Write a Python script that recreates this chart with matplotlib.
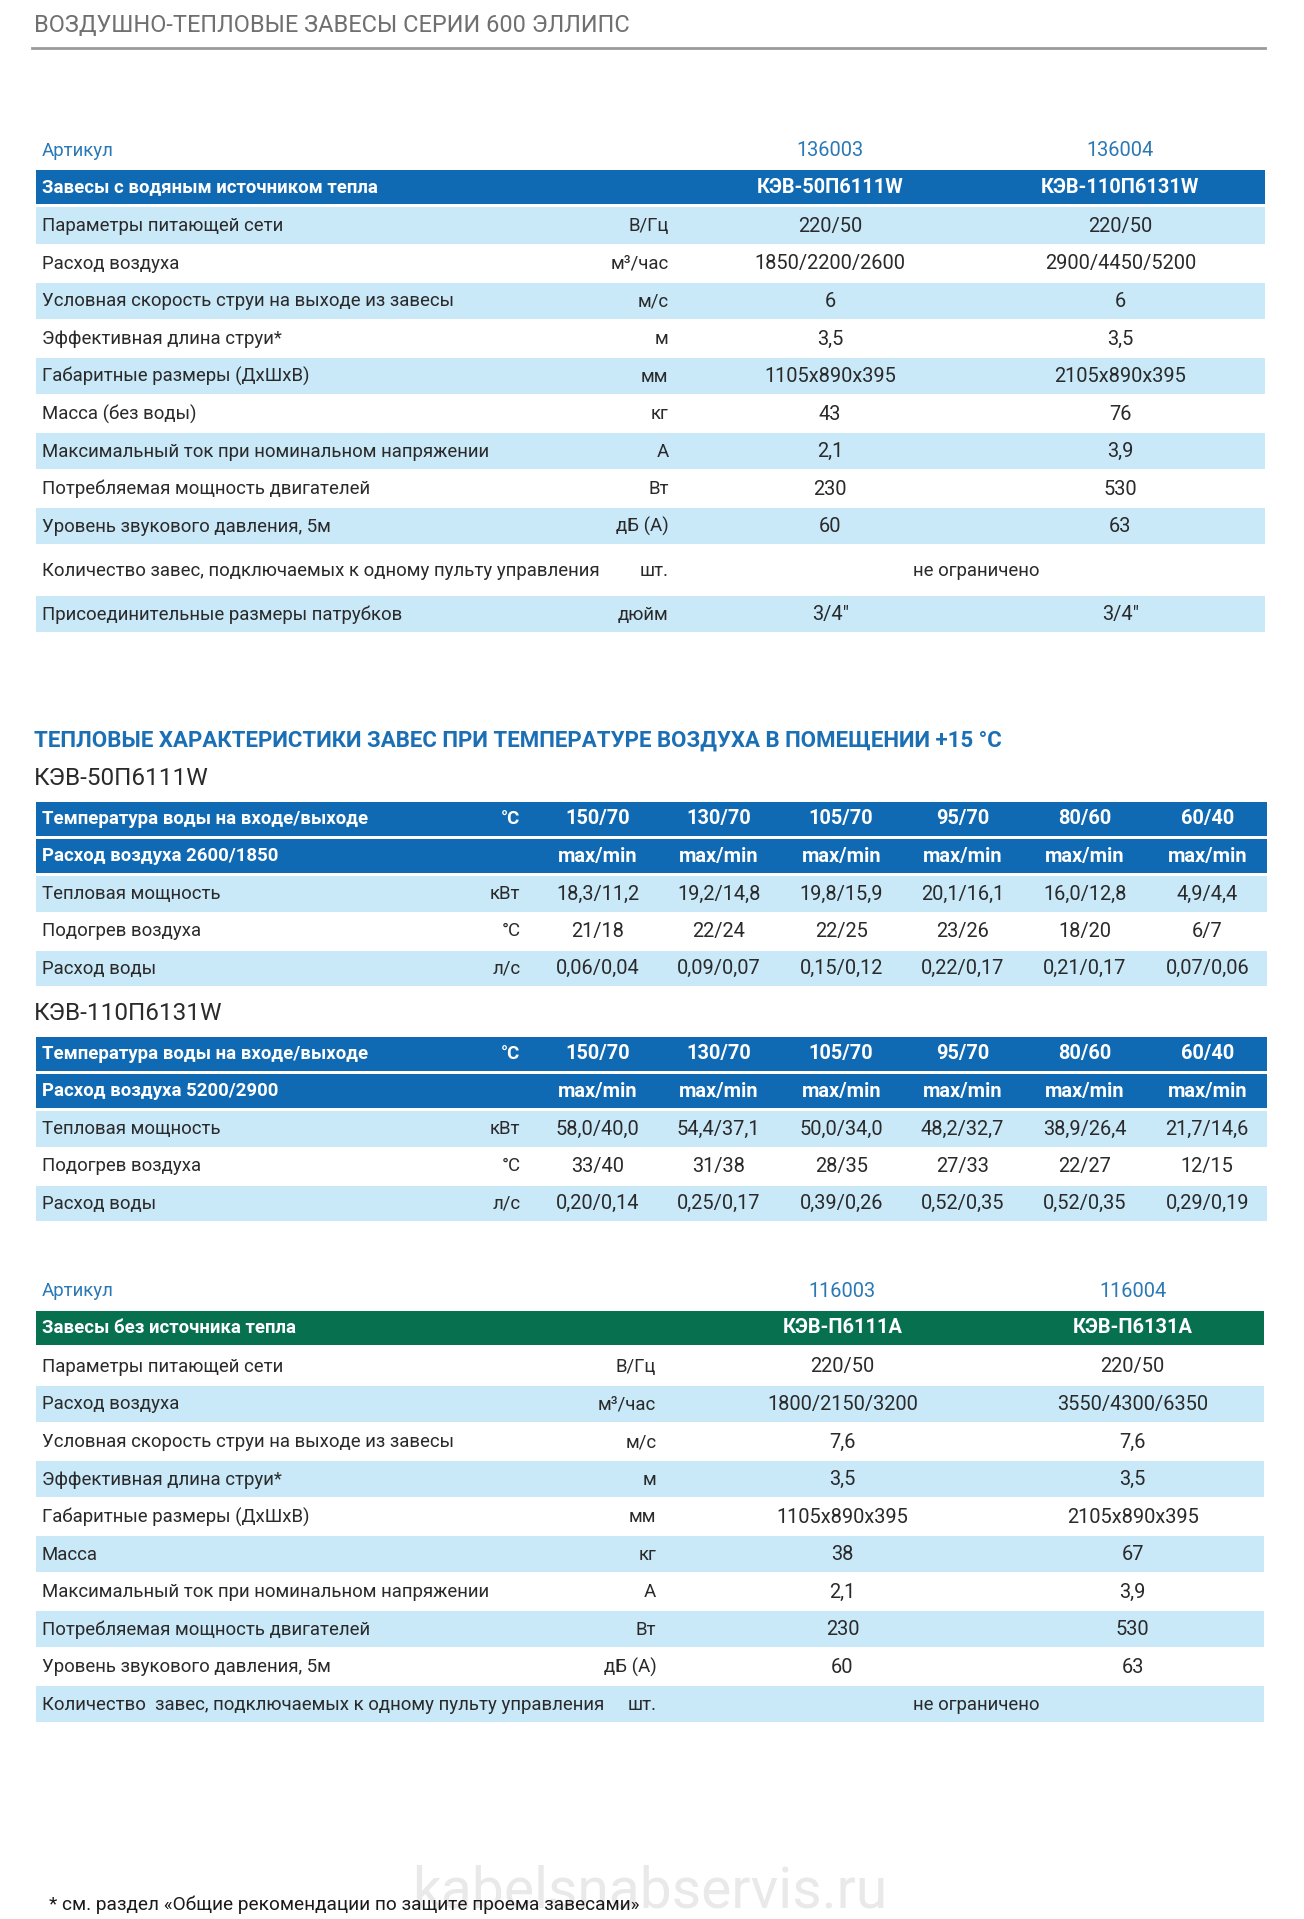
import matplotlib
matplotlib.use("Agg")
import matplotlib.pyplot as plt
from matplotlib.patches import Rectangle

# ---------------- data ----------------
page_title = "ВОЗДУШНО-ТЕПЛОВЫЕ ЗАВЕСЫ СЕРИИ 600 ЭЛЛИПС"

# table 1 - curtains with water heater
t1_articles = ["136003", "136004"]
t1_header = "Завесы с водяным источником тепла"
t1_models = ["КЭВ-50П6111W", "КЭВ-110П6131W"]
t1_params = ["Параметры питающей сети", "Расход воздуха",
             "Условная скорость струи на выходе из завесы", "Эффективная длина струи*",
             "Габаритные размеры (ДхШхВ)", "Масса (без воды)",
             "Максимальный ток при номинальном напряжении", "Потребляемая мощность двигателей",
             "Уровень звукового давления, 5м",
             "Количество завес, подключаемых к одному пульту управления",
             "Присоединительные размеры патрубков"]
t1_units = ["В/Гц", "м³/час", "м/с", "м", "мм", "кг", "А", "Вт", "дБ (А)", "шт.", "дюйм"]
t1_col1 = ["220/50", "1850/2200/2600", "6", "3,5", "1105x890x395", "43", "2,1", "230", "60",
           "не ограничено", "3/4″"]
t1_col2 = ["220/50", "2900/4450/5200", "6", "3,5", "2105x890x395", "76", "3,9", "530", "63",
           None, "3/4″"]

# table 2 - thermal characteristics
sec_title = "ТЕПЛОВЫЕ ХАРАКТЕРИСТИКИ ЗАВЕС ПРИ ТЕМПЕРАТУРЕ ВОЗДУХА В ПОМЕЩЕНИИ +15 °С"
water_temps = ["150/70", "130/70", "105/70", "95/70", "80/60", "60/40"]
therm_params = ["Тепловая мощность", "Подогрев воздуха", "Расход воды"]
therm_units = ["кВт", "°С", "л/с"]

m50_name = "КЭВ-50П6111W"
m50_air = "Расход воздуха 2600/1850"
m50_power = ["18,3/11,2", "19,2/14,8", "19,8/15,9", "20,1/16,1", "16,0/12,8", "4,9/4,4"]
m50_heat = ["21/18", "22/24", "22/25", "23/26", "18/20", "6/7"]
m50_water = ["0,06/0,04", "0,09/0,07", "0,15/0,12", "0,22/0,17", "0,21/0,17", "0,07/0,06"]

m110_name = "КЭВ-110П6131W"
m110_air = "Расход воздуха 5200/2900"
m110_power = ["58,0/40,0", "54,4/37,1", "50,0/34,0", "48,2/32,7", "38,9/26,4", "21,7/14,6"]
m110_heat = ["33/40", "31/38", "28/35", "27/33", "22/27", "12/15"]
m110_water = ["0,20/0,14", "0,25/0,17", "0,39/0,26", "0,52/0,35", "0,52/0,35", "0,29/0,19"]

# table 3 - curtains without heater
t3_articles = ["116003", "116004"]
t3_header = "Завесы без источника тепла"
t3_models = ["КЭВ-П6111А", "КЭВ-П6131А"]
t3_params = ["Параметры питающей сети", "Расход воздуха",
             "Условная скорость струи на выходе из завесы", "Эффективная длина струи*",
             "Габаритные размеры (ДхШхВ)", "Масса",
             "Максимальный ток при номинальном напряжении", "Потребляемая мощность двигателей",
             "Уровень звукового давления, 5м",
             "Количество  завес, подключаемых к одному пульту управления"]
t3_units = ["В/Гц", "м³/час", "м/с", "м", "мм", "кг", "А", "Вт", "дБ (А)", "шт."]
t3_col1 = ["220/50", "1800/2150/3200", "7,6", "3,5", "1105x890x395", "38", "2,1", "230", "60",
           "не ограничено"]
t3_col2 = ["220/50", "3550/4300/6350", "7,6", "3,5", "2105x890x395", "67", "3,9", "530", "63",
           None]

footnote = "* см. раздел «Общие рекомендации по защите проема завесами»"
watermark = "kabelsnabservis.ru"

# ---------------- style ----------------
DARK_BLUE = "#0f69b3"
LIGHT_BLUE = "#c9e8f8"
GREEN = "#06704f"
ART_BLUE = "#2a79b6"
TXT = "#2a2a2a"
BODY = ["Roboto", "DejaVu Sans"]
FS = 13.4     # labels
FN = 14.4     # numbers

W, H = 1065, 1568  # working coords (scaled to 1304x1919 output)
fig = plt.figure(figsize=(13.04, 19.19), dpi=100)
ax = fig.add_axes([0, 0, 1, 1])
ax.set_xlim(0, W)
ax.set_ylim(H, 0)
ax.axis("off")


def band(y0, y1, color, x0=29, x1=1033):
    ax.add_patch(Rectangle((x0, y0), x1 - x0, y1 - y0, color=color, lw=0))


def txt(x, y, s, ha="left", color=TXT, size=FS, weight="normal", family=BODY):
    ax.text(x, y, s, ha=ha, va="center", color=color, fontsize=size,
            fontweight=weight, family=family)


# page title
txt(28, 21, page_title, color="#707070", size=16.9)
ax.plot([26, 1033], [39, 39], color="#9a9a9a", lw=2)


def spec_table(top, articles, header, models, params, units, col1, col2,
               head_color, blue_even, x_cols, x_unit, x1, tall_row=None):
    txt(34, top, "Артикул", color=ART_BLUE)
    for x, a in zip(x_cols, articles):
        txt(x, top, a, ha="center", color=ART_BLUE, size=FN)
    h0 = top + 16
    band(h0, h0 + 28, head_color, x1=x1)
    txt(34, h0 + 14, header, color="white", weight="bold")
    for x, m in zip(x_cols, models):
        txt(x, h0 + 14, m, ha="center", color="white", weight="bold", size=FN)
    y = h0 + 30.5
    for i, (p, u, a, b) in enumerate(zip(params, units, col1, col2)):
        rh = 41 if i == tall_row else 30.7
        if (i % 2 == 0) == blue_even:
            band(y, y + rh - 1.2, LIGHT_BLUE, x1=x1)
        yc = y + rh / 2
        txt(34, yc, p)
        txt(x_unit, yc, u, ha="right")
        if b is None:
            txt(797, yc, a, ha="center")
        else:
            txt(x_cols[0], yc, a, ha="center", size=FN)
            txt(x_cols[1], yc, b, ha="center", size=FN)
        y += rh


spec_table(123, t1_articles, t1_header, t1_models, t1_params, t1_units, t1_col1, t1_col2,
           DARK_BLUE, True, [678, 915], 546, 1033, tall_row=9)

# thermal section
txt(28, 605, sec_title, color="#1b6fb5", size=16.0, weight="bold")


def therm_table(top, name, air, power, heat, water):
    txt(28, top, name, size=17.5)
    x_vals = [488, 587, 687, 786, 886, 986]
    y0 = top + 19
    band(y0, y0 + 28, DARK_BLUE, x1=1035)
    txt(34, y0 + 14, "Температура воды на входе/выходе", color="white", weight="bold")
    txt(425, y0 + 14, "°С", ha="right", color="white", weight="bold")
    for x, t in zip(x_vals, water_temps):
        txt(x, y0 + 14, t, ha="center", color="white", weight="bold", size=FN)
    y1 = y0 + 30.5
    band(y1, y1 + 28, DARK_BLUE, x1=1035)
    txt(34, y1 + 14, air, color="white", weight="bold")
    for x in x_vals:
        txt(x, y1 + 14, "max/min", ha="center", color="white", weight="bold", size=FN)
    y = y1 + 30.5
    for i, (p, u, vals) in enumerate(zip(therm_params, therm_units, [power, heat, water])):
        if i % 2 == 0:
            band(y, y + 29, LIGHT_BLUE, x1=1035)
        txt(34, y + 14.5, p)
        txt(425, y + 14.5, u, ha="right")
        for x, v in zip(x_vals, vals):
            txt(x, y + 14.5, v, ha="center", size=FN)
        y += 30.5


therm_table(636, m50_name, m50_air, m50_power, m50_heat, m50_water)
therm_table(828, m110_name, m110_air, m110_power, m110_heat, m110_water)

spec_table(1055, t3_articles, t3_header, t3_models, t3_params, t3_units, t3_col1, t3_col2,
           GREEN, False, [688, 925], 536, 1032)

txt(531, 1546, watermark, ha="center", color="#e9e9e9", size=41)
txt(40, 1556, footnote, size=13.7, color="#1a1a1a")

fig.savefig("out.png", dpi=100)
